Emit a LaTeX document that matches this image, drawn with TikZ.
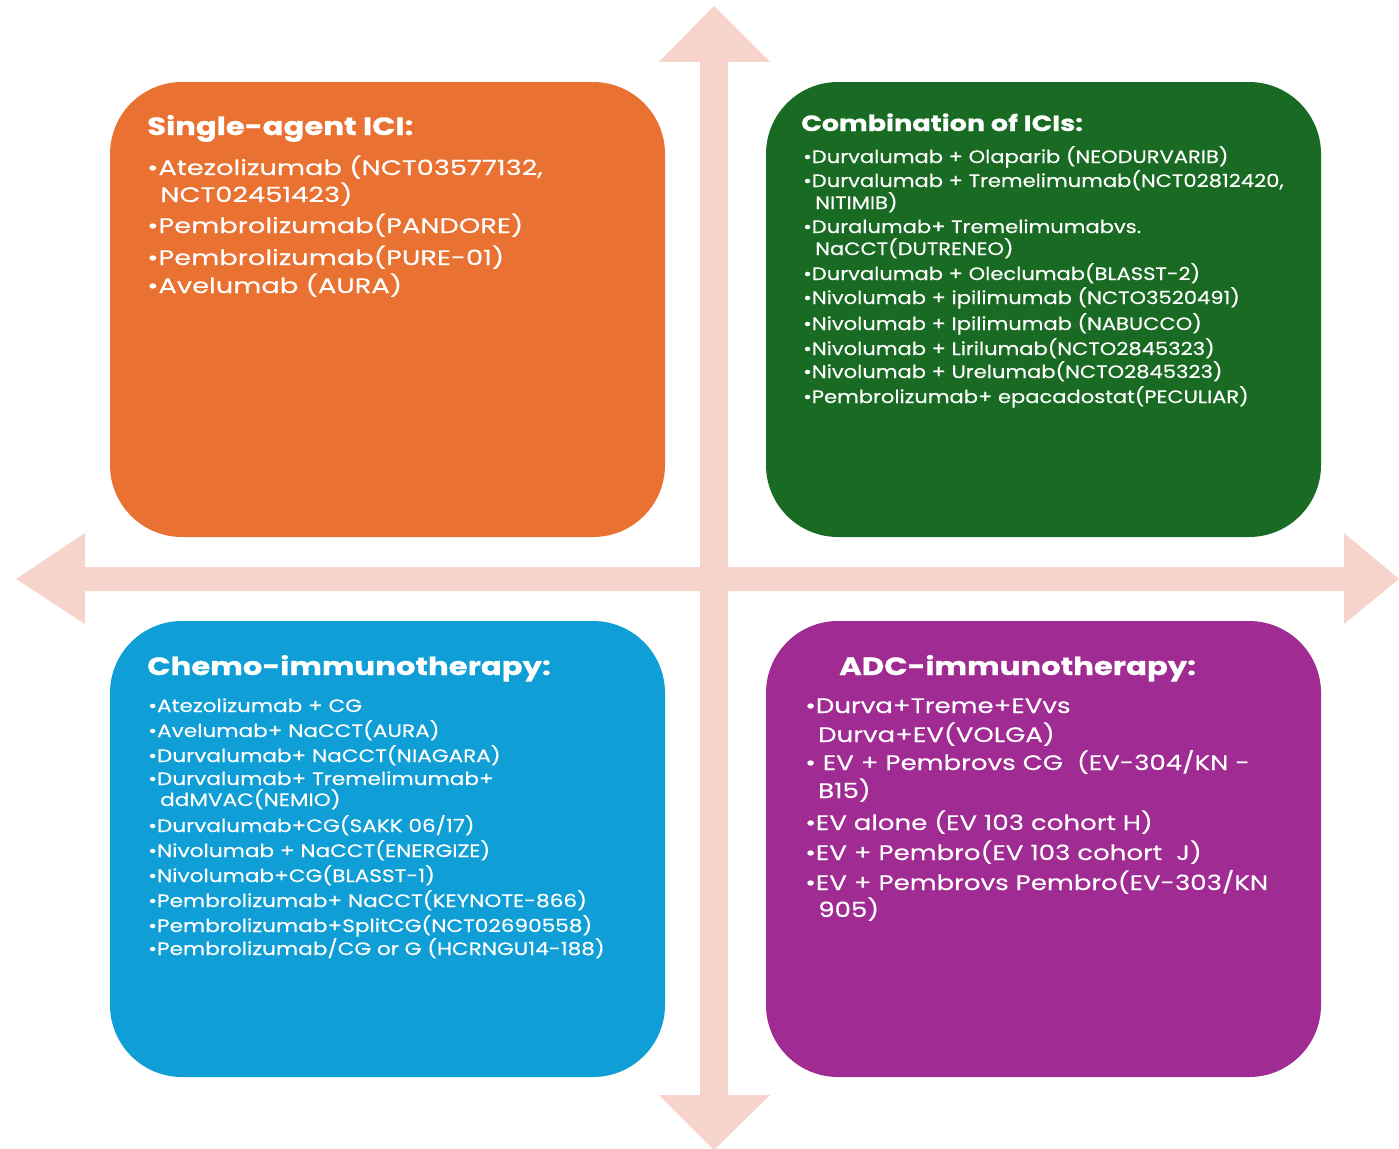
\documentclass[tikz,border=0pt]{standalone}
\usepackage{fontspec}
\setmainfont{Poppins}
\newfontfamily\ttlf[FakeStretch=1.23,FakeBold=0.6]{Poppins}
\newfontfamily\bodyO[FakeStretch=1.30,FakeBold=0.3]{Poppins}
\newfontfamily\bodyG[FakeStretch=1.17,FakeBold=0.3]{Poppins}
\newfontfamily\bodyB[FakeStretch=1.20,FakeBold=0.3]{Poppins}
\newfontfamily\bodyP[FakeStretch=1.24,FakeBold=0.3]{Poppins}
\definecolor{cOr}{HTML}{E97132}
\definecolor{cGr}{HTML}{196B24}
\definecolor{cBl}{HTML}{0F9ED5}
\definecolor{cPu}{HTML}{A02B93}
\definecolor{cAr}{HTML}{F6D4CB}
\tikzset{
  quad/.style={rounded corners=72pt},
  ttl/.style={anchor=base west, inner sep=0pt, text=white, font=\ttlf\bfseries\fontsize{#1}{#1}\selectfont},
  bdO/.style={anchor=base west, inner sep=0pt, text=white, font=\bodyO\fontsize{21}{21}\selectfont},
  bdG/.style={anchor=base west, inner sep=0pt, text=white, font=\bodyG\fontsize{18}{18}\selectfont},
  bdB/.style={anchor=base west, inner sep=0pt, text=white, font=\bodyB\fontsize{18}{18}\selectfont},
  bdP/.style={anchor=base west, inner sep=0pt, text=white, font=\bodyP\fontsize{21}{21}\selectfont},
}
\begin{document}
\begin{tikzpicture}[x=1pt,y=-1pt]
\useasboundingbox (0,0) rectangle (1399,1148);
% arrows
\fill[cAr] (700,62) -- (659,62) -- (714,6) -- (770,62) -- (728,62) -- (728,1095) -- (770,1095) -- (714,1150) -- (659,1095) -- (700,1095) -- cycle;
\fill[cAr] (85,567) -- (85,533) -- (16,579) -- (85,624) -- (85,591) -- (1344,591) -- (1344,624) -- (1399,579) -- (1344,533) -- (1344,567) -- cycle;
% boxes
\fill[cOr,quad] (110,82) rectangle (665,537);
\fill[cGr,quad] (766,82) rectangle (1321,537);
\fill[cBl,quad] (110,621) rectangle (665,1077);
\fill[cPu,quad] (766,621) rectangle (1321,1077);
% orange
\node[ttl=25] (ot) at (147,135) {Single-agent ICI:};
\node[bdO] (o1) at (147,175) {•Atezolizumab (NCT03577132,};
\node[bdO] (o2) at (160,202) {NCT02451423)};
\node[bdO] (o3) at (147,233) {•Pembrolizumab(PANDORE)};
\node[bdO] (o4) at (147,265) {•Pembrolizumab(PURE-01)};
\node[bdO] (o5) at (147,293) {•Avelumab (AURA)};
% green
\node[ttl=22] (gt) at (801,131) {Combination of ICIs:};
\node[bdG] (g1) at (803,163) {•Durvalumab + Olaparib (NEODURVARIB)};
\node[bdG] (g2) at (803,187) {•Durvalumab + Tremelimumab(NCT02812420,};
\node[bdG] (g3) at (815,209) {NITIMIB)};
\node[bdG] (g4) at (803,233) {•Duralumab+ Tremelimumabvs.};
\node[bdG] (g5) at (815,255) {NaCCT(DUTRENEO)};
\node[bdG] (g6) at (803,280) {•Durvalumab + Oleclumab(BLASST-2)};
\node[bdG] (g7) at (803,304) {•Nivolumab + ipilimumab (NCTO3520491)};
\node[bdG] (g8) at (803,330) {•Nivolumab + Ipilimumab (NABUCCO)};
\node[bdG] (g9) at (803,355) {•Nivolumab + Lirilumab(NCTO2845323)};
\node[bdG] (g10) at (803,378) {•Nivolumab + Urelumab(NCTO2845323)};
\node[bdG] (g11) at (803,403) {•Pembrolizumab+ epacadostat(PECULIAR)};
% blue
\node[ttl=25] (bt) at (147,675) {Chemo-immunotherapy:};
\node[bdB] (b1) at (148,712) {•Atezolizumab + CG};
\node[bdB] (b2) at (148,737) {•Avelumab+ NaCCT(AURA)};
\node[bdB] (b3) at (148,762) {•Durvalumab+ NaCCT(NIAGARA)};
\node[bdB] (b4) at (148,785) {•Durvalumab+ Tremelimumab+};
\node[bdB] (b5) at (160,806) {ddMVAC(NEMIO)};
\node[bdB] (b6) at (148,832) {•Durvalumab+CG(SAKK 06/17)};
\node[bdB] (b7) at (148,857) {•Nivolumab + NaCCT(ENERGIZE)};
\node[bdB] (b8) at (148,882) {•Nivolumab+CG(BLASST-1)};
\node[bdB] (b9) at (148,907) {•Pembrolizumab+ NaCCT(KEYNOTE-866)};
\node[bdB] (b10) at (148,932) {•Pembrolizumab+SplitCG(NCT02690558)};
\node[bdB] (b11) at (148,955) {•Pembrolizumab/CG or G (HCRNGU14-188)};
% purple
\node[ttl=25] (pt) at (839,675) {ADC-immunotherapy:};
\node[bdP] (p1) at (805,713) {•Durva+Treme+EVvs};
\node[bdP] (p2) at (818,742) {Durva+EV(VOLGA)};
\node[bdP] (p3) at (805,770) {• EV + Pembrovs CG\ \ (EV-304/KN -};
\node[bdP] (p4) at (818,798) {B15)};
\node[bdP] (p5) at (805,830) {•EV alone (EV 103 cohort H)};
\node[bdP] (p6) at (805,860) {•EV + Pembro(EV 103 cohort\ \ J)};
\node[bdP] (p7) at (805,890) {•EV + Pembrovs Pembro(EV-303/KN};
\node[bdP] (p8) at (818,917) {905)};
\end{tikzpicture}
\end{document}
